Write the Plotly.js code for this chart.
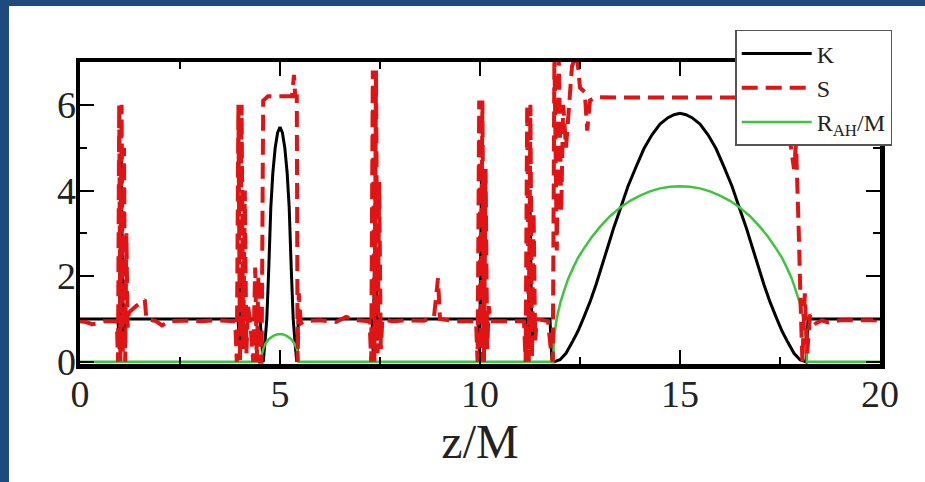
<!DOCTYPE html>
<html>
<head>
<meta charset="utf-8">
<script src="https://cdn.plot.ly/plotly-3.0.1.min.js"></script>
<style>
  html, body { margin: 0; padding: 0; width: 925px; height: 482px; overflow: hidden; background: #1f4a7d; }
  #chart { position: absolute; left: 9px; top: 6px; width: 916px; height: 476px; background: #ffffff; }
</style>
</head>
<body>
<div id="chart"></div>
<script>
// Extrinsic curvature K along the axis
const kZ = [0, 0.95, 0.98, 1.03, 1.08, 1.12, 3.95, 3.99, 4.02, 4.06, 4.1, 4.5,
  4.58, 4.62, 4.67, 4.72, 4.77, 4.82, 4.88, 4.94, 5.0, 5.06, 5.12, 5.18, 5.23, 5.28, 5.33, 5.38, 5.42, 5.46,
  7.3, 7.33, 7.38, 7.43, 7.47, 9.95, 9.99, 10.04, 10.09, 10.13, 11.15, 11.2, 11.25, 11.3, 11.35, 11.75, 11.8,
  11.85, 12.0, 12.15, 12.3, 12.45, 12.6, 12.75, 12.9, 13.05, 13.2, 13.35, 13.5, 13.7, 13.9, 14.1, 14.3, 14.5, 14.7, 14.85,
  15.0, 15.15, 15.3, 15.5, 15.7, 15.9, 16.1, 16.3, 16.5, 16.65, 16.8, 16.95, 17.1, 17.25, 17.4, 17.55, 17.7, 17.85, 18.0,
  18.15, 18.2, 20];
const kVal = [1.0, 1.0, 0.3, 4.85, 0.4, 1.0, 1.0, 0.4, 2.0, 0.5, 1.0, 1.0,
  0.0, 0.4, 1.0, 2.2, 3.6, 4.4, 5.0, 5.35, 5.48, 5.35, 5.0, 4.4, 3.6, 2.2, 1.0, 0.4, 0.0, 1.0,
  1.0, 0.2, 3.7, 0.5, 1.0, 1.0, 0.2, 4.6, 0.4, 1.0, 1.0, 0.3, 3.6, 0.4, 1.0, 1.0, 0.0,
  0.0, 0.05, 0.2, 0.45, 0.72, 1.05, 1.4, 1.8, 2.25, 2.7, 3.15, 3.55, 4.1, 4.55, 4.98, 5.3, 5.55, 5.7, 5.77,
  5.8, 5.77, 5.7, 5.55, 5.3, 4.98, 4.55, 4.1, 3.55, 3.15, 2.7, 2.25, 1.8, 1.4, 1.05, 0.72, 0.45, 0.2, 0.05,
  0.0, 1.0, 1.0];

// Shape parameter S
const sZ = [0, 0.15, 0.3, 0.45, 0.6, 0.8, 0.92, 0.95, 0.98, 1.01, 1.04, 1.07, 1.1, 1.13, 1.16, 1.19, 1.22, 1.4, 1.62, 1.66,
  1.9, 2.05, 2.25, 2.6, 3.0, 3.4, 3.88, 3.92, 3.96, 4.0, 4.04, 4.08, 4.12, 4.16, 4.2, 4.26, 4.33, 4.38, 4.42, 4.46, 4.5,
  4.54, 4.58, 4.7, 5.0, 5.3, 5.35, 5.38, 5.42, 5.44, 5.47, 5.52, 5.6, 6.0, 6.4, 6.65, 6.9,
  7.24, 7.28, 7.32, 7.36, 7.4, 7.44, 7.48, 7.52, 7.56, 7.8, 8.2, 8.6, 8.85, 8.95, 9.0, 9.4,
  9.9, 9.94, 9.98, 10.02, 10.06, 10.1, 10.14, 10.18, 10.22, 10.26, 10.6,
  11.1, 11.14, 11.18, 11.22, 11.26, 11.3, 11.34, 11.38, 11.42, 11.7, 11.78, 11.82,
  11.86, 11.92, 11.97, 12.03, 12.08, 12.15, 12.3, 12.42, 12.5, 12.62, 12.68, 12.75, 12.9,
  13.5, 14.5, 15.5, 16.5, 17.4, 17.6, 17.7, 17.85, 17.9, 17.97, 18.02, 18.06, 18.12, 18.18, 18.25,
  18.4, 18.55, 18.7, 19.0, 19.5, 20.0];
const sVal = [0.95, 0.93, 0.88, 0.9, 0.95, 0.95, 0.95, 0.0, 6.0, 0.0, 6.0, 0.2, 5.0, 0.0, 3.0, 0.8, 1.15, 1.3, 1.45, 1.0,
  0.95, 0.85, 0.95, 0.96, 0.95, 0.97, 0.95, 0.0, 6.0, 0.0, 6.0, 0.3, 4.0, 0.2, 1.3, 0.9, 0.0, 2.2, 0.0, 2.0, 0.0,
  0.0, 6.1, 6.2, 6.2, 6.2, 6.7, 6.2, 6.2, 0.0, 1.6, 0.9, 0.95, 0.97, 0.93, 1.05, 0.97,
  0.95, 0.0, 6.8, 0.0, 6.8, 0.2, 4.2, 0.3, 1.0, 0.95, 0.97, 0.96, 1.05, 1.95, 1.0, 0.95,
  0.95, 0.0, 6.1, 0.0, 6.1, 0.0, 4.5, 0.3, 1.3, 0.95, 0.95,
  0.95, 0.0, 6.0, 0.0, 6.0, 0.1, 3.5, 0.5, 1.0, 0.95, 0.2, 0.0,
  7.2, 2.6, 7.1, 3.5, 6.0, 5.0, 6.9, 7.2, 6.4, 6.3, 5.4, 6.1, 6.18,
  6.17, 6.17, 6.17, 6.17, 6.17, 6.0, 5.5, 4.5, 5.1, 3.0, 1.2, 0.0, 1.6, 0.2, 1.1,
  0.9, 0.97, 0.92, 0.97, 0.97, 0.97];

// Apparent horizon radius R_AH / M
const rZ = [0, 4.54, 4.55, 4.58, 4.64, 4.72, 4.82, 4.92, 5.0, 5.08, 5.18, 5.28, 5.36, 5.42, 5.45, 5.46,
  11.83, 11.84, 11.86, 11.9, 11.95, 12.02, 12.1, 12.2, 12.33, 12.45, 12.6, 12.8, 13.0, 13.25, 13.5, 13.75, 14.0, 14.25, 14.5, 14.75,
  15.0, 15.25, 15.5, 15.75, 16.0, 16.25, 16.5, 16.75, 17.0, 17.2, 17.4, 17.55, 17.67, 17.8, 17.9, 17.98, 18.05, 18.1, 18.14, 18.16,
  18.17, 20];
const rVal = [0, 0, 0.18, 0.3, 0.43, 0.53, 0.6, 0.64, 0.65, 0.64, 0.6, 0.53, 0.43, 0.3, 0.18, 0,
  0, 0.35, 0.6, 0.9, 1.15, 1.42, 1.65, 1.93, 2.2, 2.43, 2.65, 2.92, 3.15, 3.4, 3.6, 3.76, 3.88, 3.98, 4.05, 4.09,
  4.1, 4.09, 4.05, 3.98, 3.88, 3.76, 3.6, 3.4, 3.15, 2.92, 2.65, 2.43, 2.2, 1.93, 1.65, 1.42, 1.15, 0.9, 0.6, 0.35,
  0, 0];

const names = ['K', 'S', 'R<sub>AH</sub>/M'];
const xTickVals = [0, 5, 10, 15, 20];
const yTickVals = [0, 2, 4, 6];

const serif = 'Liberation Serif, Times New Roman, serif';

const traces = [
  { x: kZ, y: kVal, name: names[0], legendrank: 1, mode: 'lines',
    line: { color: '#000000', width: 3, simplify: false } },
  { x: rZ, y: rVal, name: names[2], legendrank: 3, mode: 'lines',
    line: { color: '#3ec43e', width: 2.5, simplify: false } },
  { x: sZ, y: sVal, name: names[1], legendrank: 2, mode: 'lines',
    line: { color: '#e01414', width: 4, dash: '16px,8px', simplify: false } }
];

const axisCommon = {
  showgrid: false, zeroline: false,
  showline: true, linewidth: 4.5, linecolor: '#000000',
  mirror: 'ticks', ticks: 'inside', ticklen: 14, tickwidth: 2, tickcolor: '#000000',
  tickfont: { family: serif, size: 38, color: '#222222' }
};

const layout = {
  width: 916, height: 476,
  margin: { l: 71, r: 45, t: 56, b: 117.5 },
  paper_bgcolor: '#ffffff', plot_bgcolor: '#ffffff',
  showlegend: true,
  xaxis: Object.assign({}, axisCommon, {
    range: [0, 20], tickvals: xTickVals, ticklabelstandoff: -7,
    minor: { dtick: 2.5, tick0: 0, ticks: 'inside', ticklen: 7, tickwidth: 2, tickcolor: '#000000' },
    title: { text: 'z/M', font: { family: serif, size: 48, color: '#222222' }, standoff: 10 }
  }),
  yaxis: Object.assign({}, axisCommon, {
    range: [-0.05, 7], tickvals: yTickVals, ticklabelstandoff: -8,
    minor: { dtick: 1, tick0: 0, ticks: 'inside', ticklen: 7, tickwidth: 2, tickcolor: '#000000' }
  }),
  legend: {
    x: 0.819, y: 1.106, xanchor: 'left', yanchor: 'top',
    bgcolor: '#ffffff', bordercolor: '#555555', borderwidth: 1.5,
    font: { family: serif, size: 24, color: '#222222' },
    itemwidth: 70
  }
};

Plotly.newPlot('chart', traces, layout, { displayModeBar: false, staticPlot: true });
</script>
</body>
</html>
